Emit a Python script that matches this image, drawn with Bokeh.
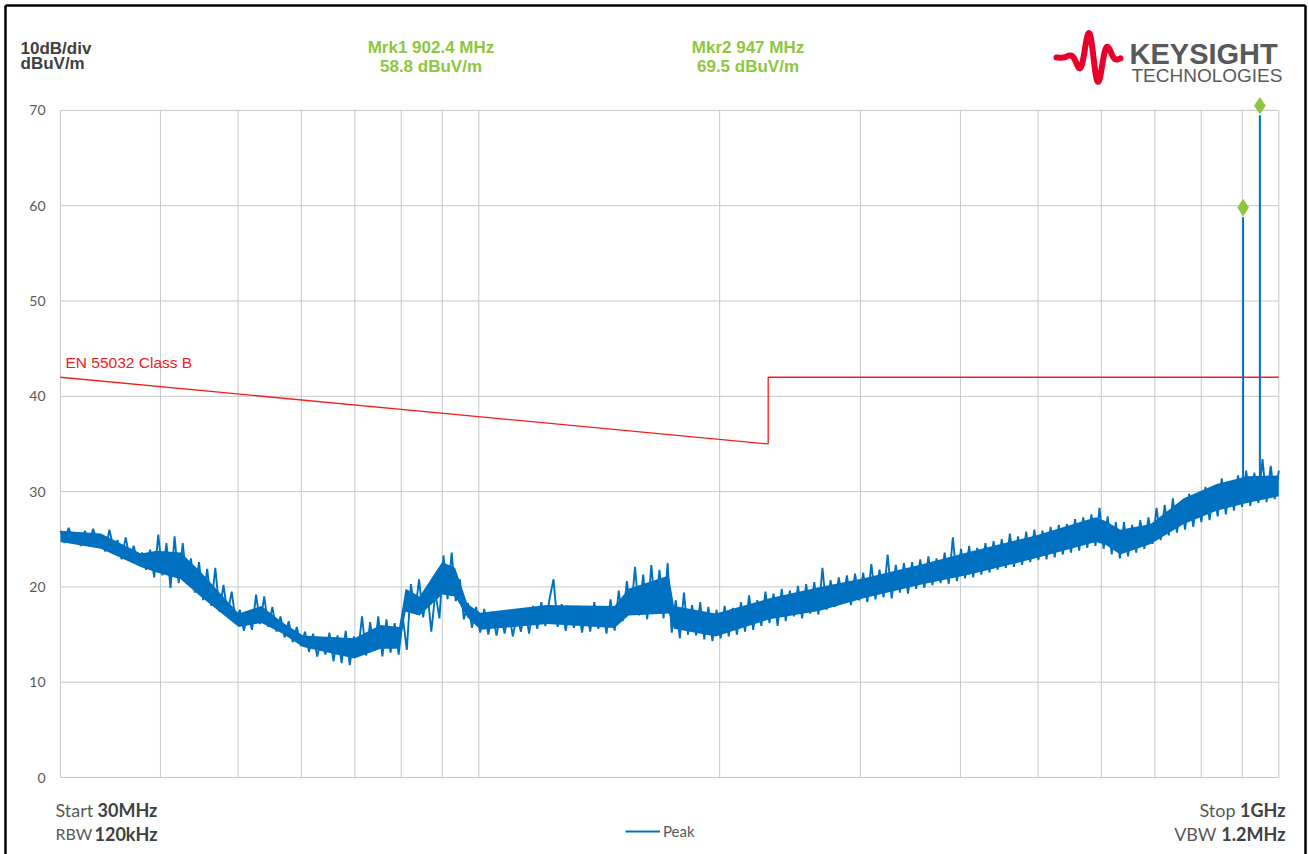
import numpy as np
from bokeh.plotting import figure
from bokeh.models import Label, Legend, LegendItem, Range1d
from bokeh.core.properties import value
from bokeh.embed import file_html
from bokeh.resources import INLINE

# ---------------- data ----------------
start_mhz = 30.0
stop_mhz = 1000.0
# peak-detector trace, sweep points spread evenly (log) from start to stop
peak_dbuv = [
    25.9, 24.6, 26.2, 24.9, 25.6, 24.3, 25.9, 24.4, 26.1, 24.8,
    25.4, 23.7, 26.0, 24.1, 24.9, 22.9, 25.2, 23.0, 24.3, 22.3,
    23.6, 21.8, 23.9, 21.0, 25.5, 21.2, 24.6, 19.9, 25.3, 20.4,
    24.6, 20.3, 23.0, 19.4, 22.6, 18.6, 21.9, 18.0, 22.0, 17.4,
    20.2, 17.1, 19.5, 16.4, 17.6, 15.4, 17.3, 15.5, 19.2, 16.1,
    19.0, 15.8, 17.9, 15.3, 16.9, 14.7, 16.4, 14.2, 15.8, 13.8,
    15.3, 13.2, 15.1, 12.7, 14.6, 12.9, 15.2, 12.2, 14.9, 12.0,
    15.4, 11.8, 14.8, 13.0, 16.9, 12.8, 16.3, 13.4, 16.9, 12.7,
    16.6, 13.1, 16.2, 12.9, 16.8, 13.4, 20.3, 17.2, 20.8, 16.8,
    19.6, 15.3, 19.4, 16.7, 23.3, 18.7, 23.6, 18.5, 20.8, 16.6,
    18.3, 15.7, 17.9, 15.2, 17.7, 15.0, 17.4, 14.9, 17.2, 15.1,
    17.5, 14.8, 17.1, 15.3, 17.8, 15.1, 18.0, 15.6, 18.4, 15.9,
    18.7, 20.8, 15.8, 18.2, 15.4, 17.9, 15.7, 18.0, 15.2, 17.8,
    15.3, 18.4, 15.6, 17.9, 15.1, 18.7, 15.4, 19.6, 16.4, 20.6,
    17.2, 22.1, 17.0, 21.3, 16.6, 22.3, 17.4, 21.8, 16.7, 22.5,
    15.2, 18.6, 14.6, 19.4, 15.0, 18.1, 14.9, 18.4, 14.5, 17.9,
    14.3, 17.6, 14.6, 18.0, 14.8, 17.8, 15.0, 18.4, 15.3, 19.1,
    15.5, 18.6, 15.9, 19.5, 16.2, 19.3, 15.9, 19.8, 16.4, 19.6,
    16.9, 20.1, 16.7, 20.3, 17.2, 20.5, 17.1, 22.0, 17.6, 20.7,
    17.9, 21.0, 18.4, 21.2, 18.1, 21.4, 18.6, 21.5, 18.4, 22.4,
    18.7, 21.8, 18.9, 23.4, 18.8, 22.3, 19.4, 22.5, 19.3, 22.6,
    19.8, 22.9, 19.9, 23.2, 20.2, 23.0, 20.4, 23.6, 20.3, 25.2,
    20.6, 24.0, 20.9, 24.3, 21.0, 24.1, 21.3, 24.6, 21.5, 24.8,
    21.8, 25.0, 22.0, 25.6, 22.1, 25.3, 22.3, 25.8, 22.6, 26.0,
    22.8, 25.9, 22.9, 26.3, 23.1, 26.5, 23.4, 26.6, 23.6, 27.1,
    23.8, 27.3, 24.1, 27.6, 24.3, 28.3, 24.0, 27.4, 23.4, 26.8,
    23.0, 26.8, 23.2, 26.5, 23.6, 27.0, 24.0, 27.3, 24.5, 28.3,
    24.9, 28.6, 25.4, 29.3, 25.7, 29.0, 26.0, 29.8, 26.3, 29.6,
    26.8, 30.5, 27.0, 30.3, 27.4, 31.4, 27.6, 31.0, 28.0, 31.7,
    28.4, 32.2, 28.5, 32.0, 28.8, 33.4, 28.9, 32.7, 29.2, 32.2,
]
# dense (solid) core of the trace, read at anchor frequencies
core_freq_mhz = [30, 33.7, 37.8, 39.6, 42.4, 44.9, 50.1, 53.5, 56.8, 60.3,
                 69.9, 75.4, 79.5, 81.0, 84.3, 90.0, 93.4, 96.8, 100.5, 121.7,
                 147.8, 153.9, 172.8, 175.4, 197.7, 230.9, 267.0, 302.8, 355.3, 410.8,
                 496.6, 590.6, 608.2, 633.6, 691.6, 760.8, 836.3, 912.6, 1000]
core_lo_dbuv = [24.7, 24.0, 22.1, 21.5, 20.8, 19.0, 15.8, 16.2, 15.1, 13.7,
                12.5, 13.5, 13.5, 17.4, 17.0, 19.2, 19.0, 16.8, 15.5, 16.1,
                15.7, 17.0, 17.2, 15.6, 14.8, 16.6, 17.5, 18.8, 20.2, 21.3,
                23.0, 24.7, 24.4, 23.4, 24.5, 26.6, 28.0, 28.8, 29.5]
core_hi_dbuv = [25.9, 25.6, 23.5, 23.8, 23.6, 21.6, 17.2, 18.0, 16.3, 14.9,
                14.6, 16.0, 15.8, 19.8, 19.0, 22.6, 22.0, 18.2, 17.3, 18.1,
                18.0, 19.8, 21.2, 18.0, 17.2, 18.8, 20.0, 20.9, 22.3, 23.7,
                25.4, 27.3, 26.9, 26.0, 26.6, 29.3, 30.8, 31.6, 31.7]
limit_freq_mhz = [30, 230, 230, 1000]
limit_dbuv = [42, 35, 42, 42]
limit_name = "EN 55032 Class B"
marker_names = ["Mrk1", "Mkr2"]
marker_freq_mhz = [902.4, 947.0]
marker_dbuv = [58.8, 69.5]
marker_base_dbuv = [31.0, 31.5]
ytick_values = [0, 10, 20, 30, 40, 50, 60, 70]
xgrid_freq_mhz = [30, 40, 50, 60, 70, 80, 90, 100, 200, 300, 400, 500,
                  600, 700, 800, 900, 1000]

# ---------------- styles ----------------
BLUE = "#0070C0"
RED = "#F02020"
GREEN = "#8DC63F"
GRID = "#C8C8C8"
DARK = "#404040"
MID = "#595959"

# page-pixel -> data helpers (layout only: 800 px / decade, 9.53 px / dB)
def X(px):
    return start_mhz * 10 ** ((px - 60) / 800.0)

def Y(py):
    return (777 - py) / 9.53

W, H = 1309, 854
freq = np.geomspace(start_mhz, stop_mhz, len(peak_dbuv))

p = figure(width=W, height=H, x_axis_type="log",
           x_range=Range1d(X(0), X(W)), y_range=Range1d(Y(H), Y(0)),
           x_axis_location=None, y_axis_location=None,
           output_backend="svg", toolbar_location=None,
           min_border=0)
p.outline_line_color = None
p.background_fill_color = "white"
p.border_fill_color = "white"
p.grid.visible = False

# outer frame (left, top, right)
p.segment(x0=[X(5), X(5), X(1305)], y0=[Y(5), Y(5), Y(5)],
          x1=[X(5), X(1305), X(1305)], y1=[Y(H), Y(5), Y(H)],
          line_color="black", line_width=2.5)

# grid
p.segment(x0=start_mhz, y0=ytick_values, x1=stop_mhz, y1=ytick_values,
          line_color=GRID, line_width=1)
p.segment(x0=xgrid_freq_mhz, y0=ytick_values[0], x1=xgrid_freq_mhz, y1=ytick_values[-1],
          line_color=GRID, line_width=1)
# y tick labels
p.text(x=[X(45)] * len(ytick_values), y=ytick_values, text=[str(v) for v in ytick_values],
       text_align="right", text_baseline="middle", text_font=value("Lato"),
       text_font_size=value("14px"), text_color=MID)

# limit line
p.line(limit_freq_mhz, limit_dbuv, line_color=RED, line_width=1.3)

# trace
p.varea(x=core_freq_mhz, y1=core_lo_dbuv, y2=core_hi_dbuv, fill_color=BLUE)
r_peak = p.line(freq, peak_dbuv, line_color=BLUE, line_width=1.9)
p.segment(x0=marker_freq_mhz, y0=marker_base_dbuv, x1=marker_freq_mhz, y1=marker_dbuv,
          line_color=BLUE, line_width=2)
p.scatter(marker_freq_mhz, [v + 1.0 for v in marker_dbuv],
          marker="diamond", size=16, fill_color=GREEN, line_color=GREEN)

# legend
legend = Legend(items=[LegendItem(label="Peak", renderers=[r_peak])],
                location=(625, 14), orientation="horizontal",
                glyph_width=35, glyph_height=14, label_height=14,
                label_standoff=3, padding=0, margin=0, spacing=0,
                border_line_color=None, background_fill_alpha=0,
                label_text_font="Lato", label_text_font_size="15px",
                label_text_color=MID)
p.add_layout(legend, "center")

def lab(px, py, text, size, color, bold=False, font="Liberation Sans", align="left"):
    p.add_layout(Label(x=X(px), y=Y(py), text=text, text_font=font,
                       text_font_size=size, text_color=color,
                       text_font_style="bold" if bold else "normal",
                       text_align=align, text_baseline="alphabetic"))

# header
lab(20, 48.3, "10dB/div", "17px", DARK, bold=True)
lab(20, 63.3, "dBuV/m", "17px", DARK, bold=True)
for cx, name, f, v in zip([430.5, 747.5], marker_names, marker_freq_mhz, marker_dbuv):
    lab(cx, 46.7, f"{name} {f:g} MHz", "17px", GREEN, bold=True, align="center")
    lab(cx, 65.5, f"{v:g} dBuV/m", "17px", GREEN, bold=True, align="center")

# logo
lx = np.linspace(1056, 1120, 120)
ly = 57 - 27 * np.cos(2 * np.pi * (lx - 1088) / 20.0) * np.exp(-((lx - 1093) / 15.0) ** 2)
p.line([X(v) for v in lx], [Y(v) for v in ly], line_color="#E90029", line_width=6,
       line_cap="round", line_join="round")
lab(1129, 53.3, "KEYSIGHT", "29px", "#58595B", bold=True)
lab(1131, 75, "TECHNOLOGIES", "19px", "#58595B")

# limit label
lab(65, 362, limit_name, "15.5px", RED)

# footer
lab(55, 809, "Start", "18px", MID, font="Lato")
lab(97, 809, f"{start_mhz:g}MHz", "18px", DARK, bold=True, font="Lato")
lab(55, 833, "RBW", "16px", MID, font="Lato")
lab(94, 833, "120kHz", "18px", DARK, bold=True, font="Lato")
lab(1235, 809, "Stop", "18px", MID, font="Lato", align="right")
lab(1285, 809, f"{stop_mhz/1000:g}GHz", "18px", DARK, bold=True, font="Lato", align="right")
lab(1216, 833, "VBW", "18px", MID, font="Lato", align="right")
lab(1285, 833, "1.2MHz", "18px", DARK, bold=True, font="Lato", align="right")

open("out.html", "w").write(file_html(p, INLINE))
